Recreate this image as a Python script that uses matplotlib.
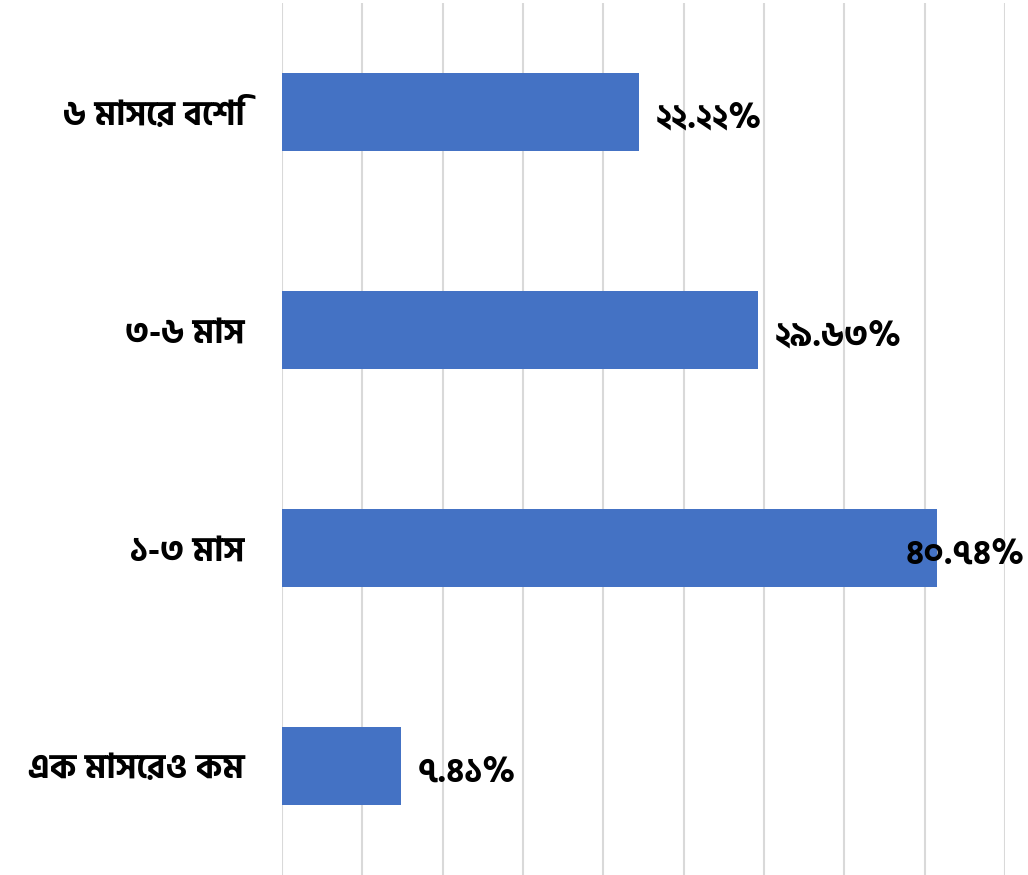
import matplotlib
matplotlib.use('Agg')
import matplotlib.pyplot as plt
from matplotlib.ticker import MultipleLocator

# data
categories = ['এক মাসেরও কম', '১-৩ মাস', '৩-৬ মাস', '৬ মাসের বেশি']
values = [7.41, 40.74, 29.63, 22.22]
value_labels = ['৭.৪১%', '৪০.৭৪%', '২৯.৬৩%', '২২.২২%']

plt.rcParams['font.family'] = ['Hind Siliguri', 'Noto Sans Bengali', 'DejaVu Sans']
FS = 24.5

fig = plt.figure(figsize=(10.28, 8.75), dpi=100)
ax = fig.add_axes([282 / 1028, 0, (1005 - 282) / 1028, 1 - 3 / 875])

y = list(range(len(categories)))
ax.barh(y, values, height=0.355, color='#4472C4', zorder=3)

ax.set_xlim(0, 45)
ax.set_ylim(-0.5, 3.5)
ax.xaxis.set_major_locator(MultipleLocator(5))
ax.grid(axis='x', color='#d9d9d9', linewidth=1.5, zorder=0)
ax.tick_params(axis='x', length=0, labelbottom=False)
ax.tick_params(axis='y', length=0, pad=27)
ax.set_yticks(y)
ax.set_yticklabels(categories, fontsize=FS, fontweight='bold')
for s in ax.spines.values():
    s.set_visible(False)

for yi, v, lab in zip(y, values, value_labels):
    if v > 40:
        # label would run off the figure, Excel pulls it back in
        ax.annotate(lab, (1.0, yi), xycoords=('figure fraction', 'data'),
                    xytext=(-2, -5), textcoords='offset points',
                    ha='right', va='center', fontsize=FS, fontweight='bold',
                    annotation_clip=False, zorder=4)
    else:
        ax.annotate(lab, (v, yi), xytext=(12, -5), textcoords='offset points',
                    ha='left', va='center', fontsize=FS, fontweight='bold',
                    annotation_clip=False, zorder=4)

fig.savefig('out.png', dpi=100)
